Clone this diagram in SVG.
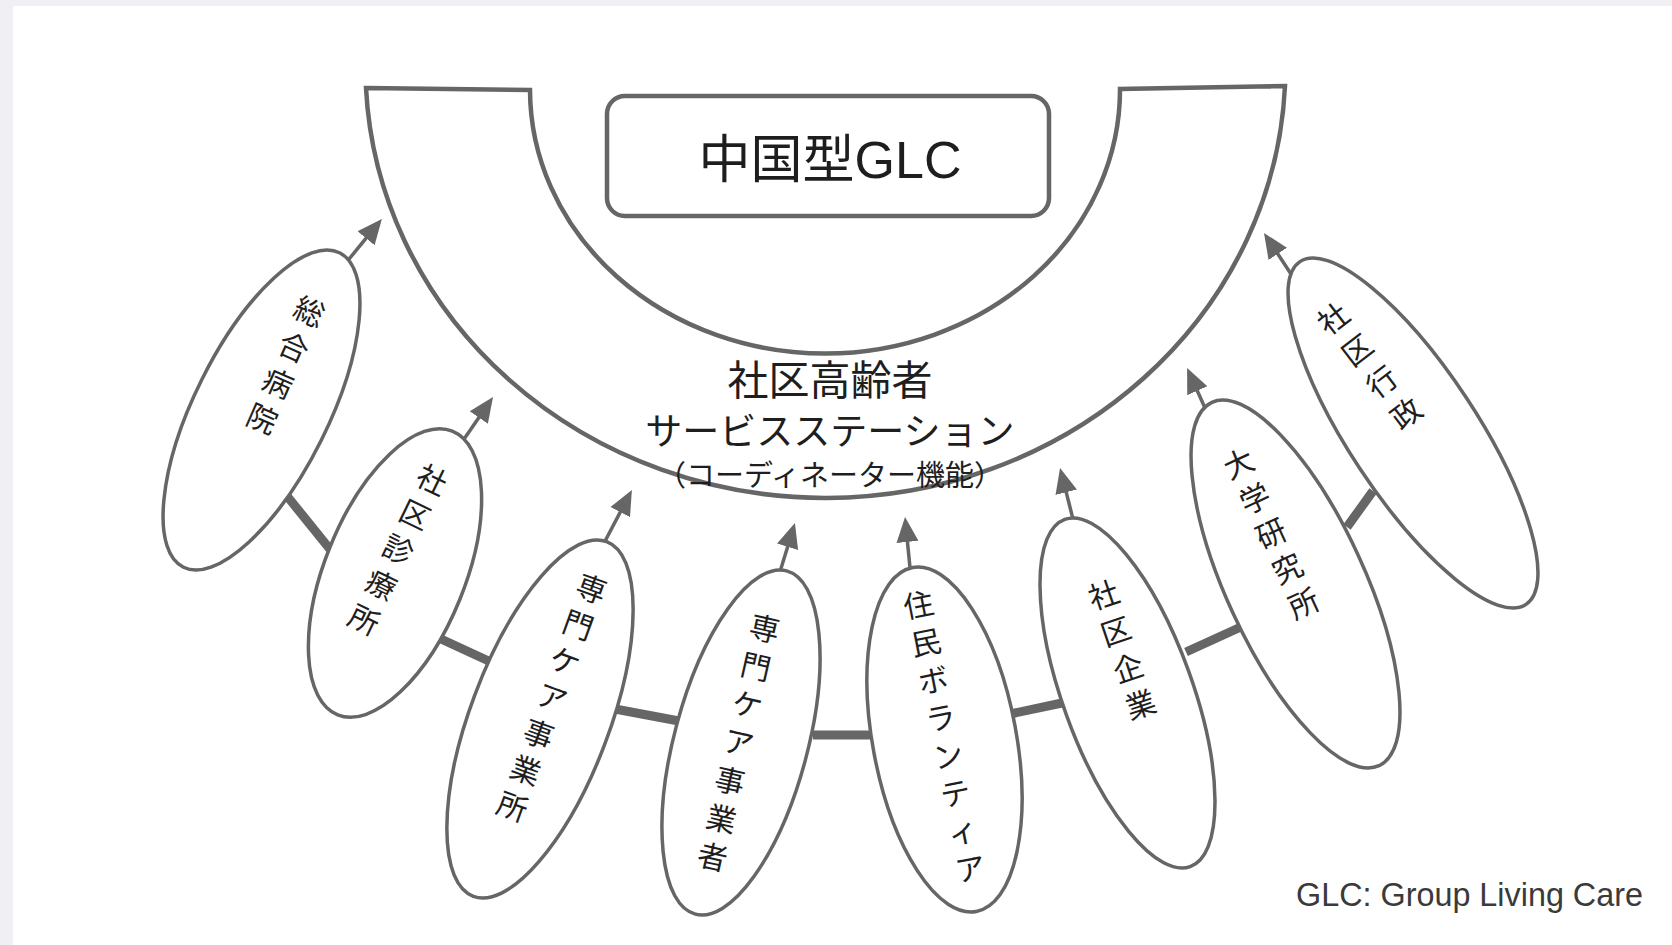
<svg xmlns="http://www.w3.org/2000/svg" width="1672" height="945" viewBox="0 0 1672 945">
<style>
.sh{fill:#fff;stroke:#666;stroke-width:4.5;stroke-linejoin:miter}
.el{fill:#fff;stroke:#666;stroke-width:3.5}
.ar{stroke:#666;stroke-width:3.5;fill:none;marker-end:url(#ah)}
.bar{stroke:#666;stroke-width:9;fill:none}
.jp{font-family:"Noto Sans CJK JP","Noto Sans CJK SC",sans-serif;fill:#1e1e1e}
.et{font-size:30px;text-anchor:middle;dominant-baseline:central}
.lat{font-family:"Liberation Sans",Arial,sans-serif}
</style>
<defs>
<marker id="ah" markerUnits="userSpaceOnUse" markerWidth="26" markerHeight="24" viewBox="0 -12 26 24" refX="13" refY="0" orient="auto">
<path d="M0,-11 L25,0 L0,11 Z" fill="#666"/>
</marker>
</defs>
<rect x="0" y="0" width="1672" height="945" fill="#f0f0f4"/>
<rect x="13" y="6" width="1659" height="939" fill="#fff"/>

<g id="station">
<path class="sh" d="M366,88 L530,90 A295,264 0 0 0 1120,89 L1285,86 A460,431 0 0 1 366,88 Z"/>
<text class="jp" x="830" y="395" font-size="41" text-anchor="middle">社区高齢者</text>
<text class="jp" x="830" y="445" font-size="37" text-anchor="middle">サービスステーション</text>
<text class="jp" x="830" y="486" font-size="29" text-anchor="middle">（コーディネーター機能）</text>
</g>

<g id="glc">
<rect class="sh" x="607" y="96" width="442" height="120" rx="18" ry="18"/>
<text class="jp" x="830" y="178" font-size="52" text-anchor="middle">中国型<tspan class="lat">GLC</tspan></text>
</g>

<g id="connectors">
<line class="ar" x1="345" y1="264" x2="374.3" y2="228.2"/>
<line class="ar" x1="462" y1="442" x2="486.2" y2="406.9"/>
<line class="ar" x1="603" y1="545" x2="626.3" y2="500.6"/>
<line class="ar" x1="779" y1="575" x2="791.4" y2="534.4"/>
<line class="ar" x1="910.5" y1="573" x2="906.2" y2="529"/>
<line class="ar" x1="1074" y1="523" x2="1063" y2="479.6"/>
<line class="ar" x1="1205" y1="408" x2="1192" y2="378.9"/>
<line class="ar" x1="1293" y1="277" x2="1270.6" y2="243"/>
<line class="bar" x1="287" y1="496" x2="333" y2="553"/>
<line class="bar" x1="441" y1="639" x2="493" y2="663"/>
<line class="bar" x1="615" y1="709" x2="679" y2="721"/>
<line class="bar" x1="813" y1="735" x2="877" y2="735"/>
<line class="bar" x1="1010" y1="714" x2="1062" y2="703"/>
<line class="bar" x1="1186" y1="652" x2="1243" y2="626"/>
<line class="bar" x1="1347" y1="527" x2="1373" y2="491"/>
</g>

<g id="n1">
<ellipse class="el" cx="0" cy="0" rx="67" ry="175.5" transform="translate(261.5,410) rotate(26.4)"/>
<text class="jp et" transform="translate(286.5,363.5) rotate(23.7)"><tspan x="0" y="-58.5">総</tspan><tspan x="0" y="-19.5">合</tspan><tspan x="0" y="19.5">病</tspan><tspan x="0" y="58.5">院</tspan></text>
</g>
<g id="n2">
<ellipse class="el" cx="0" cy="0" rx="70" ry="153" transform="translate(395,573) rotate(22)"/>
<text class="jp et" transform="translate(399,548) rotate(25.9)"><tspan x="0" y="-77.8">社</tspan><tspan x="0" y="-38.9">区</tspan><tspan x="0" y="0">診</tspan><tspan x="0" y="38.9">療</tspan><tspan x="0" y="77.8">所</tspan></text>
</g>
<g id="n3">
<ellipse class="el" cx="0" cy="0" rx="69.5" ry="189.4" transform="translate(540,719) rotate(20.6)"/>
<text class="jp et" transform="translate(552.5,696) rotate(19.9)"><tspan x="0" y="-115.8">専</tspan><tspan x="0" y="-77.2">門</tspan><tspan x="0" y="-38.6">ケ</tspan><tspan x="0" y="0">ア</tspan><tspan x="0" y="38.6">事</tspan><tspan x="0" y="77.2">業</tspan><tspan x="0" y="115.8">所</tspan></text>
</g>
<g id="n4">
<ellipse class="el" cx="0" cy="0" rx="66.7" ry="177.6" transform="translate(741,742.5) rotate(14.9)"/>
<text class="jp et" transform="translate(739,741) rotate(12.8)"><tspan x="0" y="-117">専</tspan><tspan x="0" y="-78">門</tspan><tspan x="0" y="-39">ケ</tspan><tspan x="0" y="0">ア</tspan><tspan x="0" y="39">事</tspan><tspan x="0" y="78">業</tspan><tspan x="0" y="117">者</tspan></text>
</g>
<g id="n5">
<ellipse class="el" cx="0" cy="0" rx="71.8" ry="174.9" transform="translate(944.5,739.5) rotate(-10.5)"/>
<text class="jp et" transform="translate(944,735) rotate(-11.1)"><tspan x="0" y="-134.4">住</tspan><tspan x="0" y="-96">民</tspan><tspan x="0" y="-57.6">ボ</tspan><tspan x="0" y="-19.2">ラ</tspan><tspan x="0" y="19.2">ン</tspan><tspan x="0" y="57.6">テ</tspan><tspan x="0" y="96">ィ</tspan><tspan x="0" y="134.4">ア</tspan></text>
</g>
<g id="n6">
<ellipse class="el" cx="0" cy="0" rx="64.9" ry="184.6" transform="translate(1127.5,693) rotate(-19.85)"/>
<text class="jp et" transform="translate(1121.5,648) rotate(-18.6)"><tspan x="0" y="-58">社</tspan><tspan x="0" y="-19.3">区</tspan><tspan x="0" y="19.3">企</tspan><tspan x="0" y="58">業</tspan></text>
</g>
<g id="n7">
<ellipse class="el" cx="0" cy="0" rx="69" ry="200" transform="translate(1295.5,584) rotate(-24.7)"/>
<text class="jp et" transform="translate(1270.5,532) rotate(-24.9)"><tspan x="0" y="-77.2">大</tspan><tspan x="0" y="-38.6">学</tspan><tspan x="0" y="0">研</tspan><tspan x="0" y="38.6">究</tspan><tspan x="0" y="77.2">所</tspan></text>
</g>
<g id="n8">
<ellipse class="el" cx="0" cy="0" rx="63.9" ry="205.3" transform="translate(1413,433) rotate(-33.4)"/>
<text class="jp et" transform="translate(1368.5,364.5) rotate(-37.5)"><tspan x="0" y="-59.8">社</tspan><tspan x="0" y="-20">区</tspan><tspan x="0" y="20">行</tspan><tspan x="0" y="59.8">政</tspan></text>
</g>

<g id="legend">
<text class="lat" x="1296" y="906" font-size="34" fill="#3a3a3a" textLength="347" lengthAdjust="spacingAndGlyphs">GLC: Group Living Care</text>
</g>
</svg>
